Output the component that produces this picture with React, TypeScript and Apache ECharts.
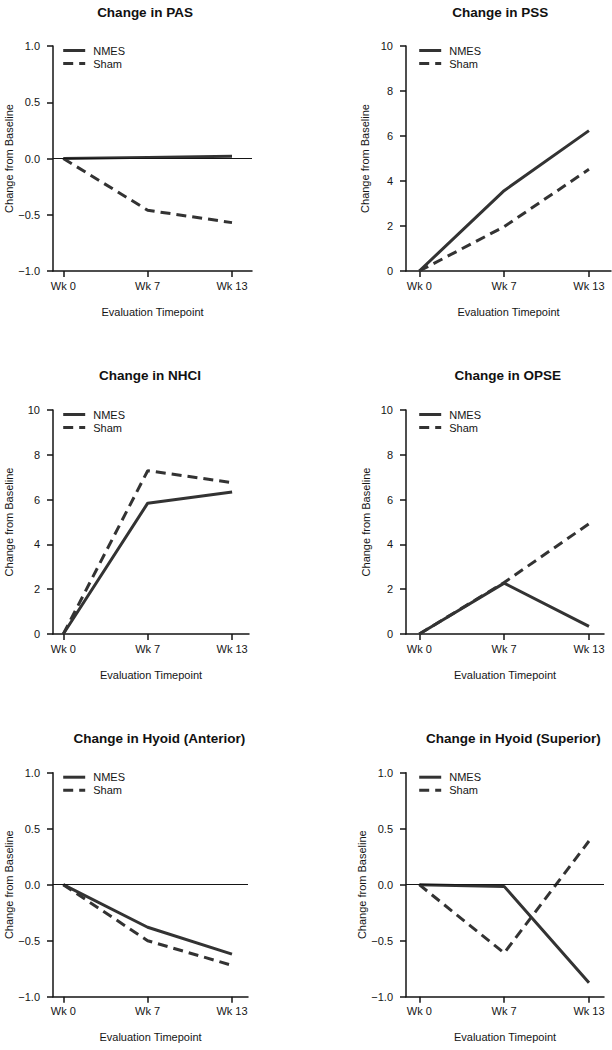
import React, { useEffect, useRef } from 'react';
import * as echarts from 'echarts';

// ---------- data ----------
const weekLabels = ['Wk 0', 'Wk 7', 'Wk 13'];
const seriesNames = ['NMES', 'Sham'];
const panelTitles = [
  'Change in PAS',
  'Change in PSS',
  'Change in NHCI',
  'Change in OPSE',
  'Change in Hyoid (Anterior)',
  'Change in Hyoid (Superior)',
];
const xAxisTitle = 'Evaluation Timepoint';
const yAxisTitle = 'Change from Baseline';

const pasNMES = [0, 0.01, 0.02];
const pasSham = [0, -0.46, -0.57];
const pssNMES = [0, 3.57, 6.24];
const pssSham = [0, 1.97, 4.52];
const nhciNMES = [0, 5.84, 6.34];
const nhciSham = [0, 7.29, 6.76];
const opseNMES = [0, 2.27, 0.34];
const opseSham = [0, 2.3, 4.92];
const hyoidAntNMES = [0, -0.38, -0.62];
const hyoidAntSham = [0, -0.5, -0.72];
const hyoidSupNMES = [0, -0.015, -0.875];
const hyoidSupSham = [0, -0.61, 0.39];

const smallRange = { min: -1, max: 1, step: 0.5 };
const largeRange = { min: 0, max: 10, step: 2 };

const panelData = [
  { nmes: pasNMES, sham: pasSham, range: smallRange, zero: true },
  { nmes: pssNMES, sham: pssSham, range: largeRange, zero: false },
  { nmes: nhciNMES, sham: nhciSham, range: largeRange, zero: false },
  { nmes: opseNMES, sham: opseSham, range: largeRange, zero: false },
  { nmes: hyoidAntNMES, sham: hyoidAntSham, range: smallRange, zero: true },
  { nmes: hyoidSupNMES, sham: hyoidSupSham, range: smallRange, zero: true },
];

// ---------- layout ----------
const layout = [
  { left: 53, top: 46, width: 199, height: 225, xMin: -0.122, xMax: 2.237, tx: 145, ty: 12.7, yGap: 39, lg: 61.7 },
  { left: 406, top: 46, width: 205, height: 225, xMin: -0.157, xMax: 2.26, tx: 500.3, ty: 12.7, yGap: 36, lg: 417.7 },
  { left: 53, top: 410, width: 196, height: 224, xMin: -0.122, xMax: 2.2, tx: 150, ty: 375, yGap: 39, lg: 61.7 },
  { left: 406, top: 410, width: 198, height: 224, xMin: -0.157, xMax: 2.177, tx: 507.7, ty: 375, yGap: 35, lg: 417.7 },
  { left: 53, top: 772.7, width: 195, height: 224, xMin: -0.122, xMax: 2.19, tx: 159.3, ty: 738.3, yGap: 39, lg: 61.7 },
  { left: 406, top: 772.7, width: 198, height: 224, xMin: -0.157, xMax: 2.177, tx: 513.3, ty: 738.3, yGap: 36, lg: 417.7 },
];

const FONT = '"Liberation Sans", Arial, Helvetica, sans-serif';
const INK = '#151515';
const LINE = '#333333';
const DASH = [10, 6];

function buildOption() {
  const grid: any[] = [];
  const xAxis: any[] = [];
  const yAxis: any[] = [];
  const series: any[] = [];
  const legend: any[] = [];
  const graphic: any[] = [];

  panelData.forEach((p, i) => {
    const L = layout[i];
    grid.push({ left: L.left, top: L.top, width: L.width, height: L.height, containLabel: false });
    xAxis.push({
      gridIndex: i,
      type: 'value',
      min: L.xMin,
      max: L.xMax,
      splitLine: { show: false },
      axisLine: { show: true, onZero: false, lineStyle: { color: INK, width: 1.5 } },
      axisTick: { show: true, length: 6, customValues: [0, 1, 2], lineStyle: { color: INK, width: 1.5 } },
      axisLabel: {
        customValues: [0, 1, 2],
        formatter: (v: number) => weekLabels[Math.round(v)] ?? '',
        margin: 9,
        fontSize: 11,
        color: INK,
        fontFamily: FONT,
      },
      name: xAxisTitle,
      nameLocation: 'middle',
      nameGap: 35,
      nameTextStyle: { fontSize: 11, color: INK, fontFamily: FONT },
    });
    yAxis.push({
      gridIndex: i,
      type: 'value',
      min: p.range.min,
      max: p.range.max,
      interval: p.range.step,
      splitLine: { show: false },
      axisLine: { show: true, onZero: false, lineStyle: { color: INK, width: 1.5 } },
      axisTick: { show: true, length: 6, lineStyle: { color: INK, width: 1.5 } },
      axisLabel: {
        formatter: (v: number) => (p.range.step < 1 ? v.toFixed(1) : String(v)).replace('-', '\u2212'),
        margin: 13,
        fontSize: 11,
        color: INK,
        fontFamily: FONT,
      },
      name: yAxisTitle,
      nameLocation: 'middle',
      nameRotate: 90,
      nameGap: L.yGap,
      nameTextStyle: { fontSize: 11, color: INK, fontFamily: FONT },
    });
    series.push({
      type: 'line',
      name: seriesNames[1],
      xAxisIndex: i,
      yAxisIndex: i,
      data: p.sham.map((v, k) => [k, v]),
      symbol: 'none',
      showSymbol: false,
      lineStyle: { color: LINE, width: 3, type: DASH },
      itemStyle: { color: LINE },
      z: 2,
    });
    const nm: any = {
      type: 'line',
      name: seriesNames[0],
      xAxisIndex: i,
      yAxisIndex: i,
      data: p.nmes.map((v, k) => [k, v]),
      symbol: 'none',
      showSymbol: false,
      lineStyle: { color: LINE, width: 3, type: 'solid' },
      itemStyle: { color: LINE },
      z: 3,
    };
    if (p.zero) {
      nm.markLine = {
        silent: true,
        symbol: ['none', 'none'],
        label: { show: false },
        lineStyle: { color: INK, width: 1, type: 'solid' },
        data: [{ yAxis: 0 }],
      };
    }
    series.push(nm);
    legend.push({
      orient: 'vertical',
      left: L.lg,
      top: L.top - 1.5,
      padding: 0,
      itemWidth: 22,
      itemHeight: 12,
      itemGap: 1,
      selectedMode: false,
      data: seriesNames,
      itemStyle: { color: 'rgba(0,0,0,0)', borderWidth: 0, opacity: 0 },
      lineStyle: { width: 3 },
      textStyle: { fontSize: 11, color: INK, fontFamily: FONT, lineHeight: 12, padding: [0, 0, 0, 3] },
    });
    graphic.push({
      type: 'text',
      x: L.tx,
      y: L.ty,
      style: {
        text: panelTitles[i],
        fontSize: 13.5,
        fontWeight: 'bold',
        fontFamily: FONT,
        fill: '#111',
        align: 'center',
        verticalAlign: 'middle',
      },
    });
  });

  return {
    animation: false,
    backgroundColor: '#ffffff',
    grid,
    xAxis,
    yAxis,
    series,
    legend,
    graphic,
  };
}

export default function App() {
  const ref = useRef<HTMLDivElement>(null);
  useEffect(() => {
    document.body.style.margin = '0';
    if (!ref.current) return;
    const chart = echarts.init(ref.current, undefined, { renderer: 'svg' });
    chart.setOption(buildOption() as any);
    return () => chart.dispose();
  }, []);
  return <div ref={ref} style={{ width: 612, height: 1050 }} />;
}
